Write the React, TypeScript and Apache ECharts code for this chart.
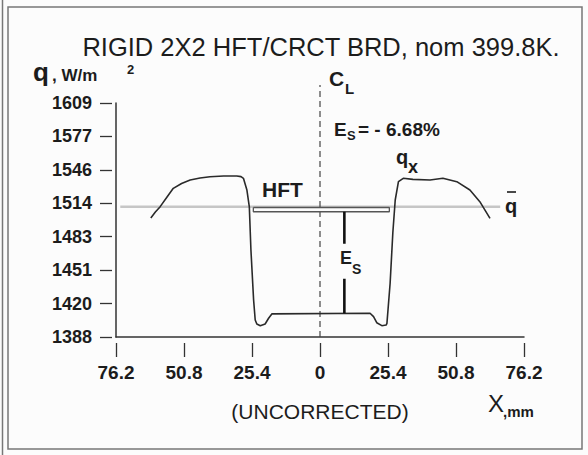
import React, { useEffect, useRef } from "react";
import * as echarts from "echarts";

// ---- data ----
const yTickLabels = ["1388", "1420", "1451", "1483", "1514", "1546", "1577", "1609"];
const yMin = 1388;
const yMax = 1609;
const xTickLabels = ["76.2", "50.8", "25.4", "0", "25.4", "50.8", "76.2"];
const xMin = -76.2;
const xMax = 76.2;
const xStep = 25.4;

// local heat flux q_x (W/m^2) vs X (mm)
const curveX = [
  -63.2, -61.5, -59.7, -57.2, -54.8, -51.7, -48.5, -44.8, -41.1, -36.0, -31.1, -29.5, -28.6,
  -27.3, -26.4, -25.8, -24.8, -24.2, -23.6, -22.3, -20.5, -19.2, -18.0,
  18.7, 20.0, 21.2, 23.1, 24.7, 25.0, 26.2, 27.2, 28.1, 29.3, 31.1, 34.7, 41.1, 45.9, 51.1,
  56.0, 59.7, 63.5,
];
const curveQ = [
  1500.4, 1506.0, 1511.1, 1520.0, 1528.4, 1533.0, 1536.3, 1538.2, 1539.4, 1540.0, 1540.1, 1539.5, 1537.9,
  1526.8, 1511.0, 1470.2, 1423.0, 1404.0, 1400.3, 1398.7, 1400.3, 1405.7, 1409.8,
  1410.4, 1407.2, 1401.5, 1398.7, 1399.3, 1400.9, 1439.0, 1486.2, 1517.4, 1534.7, 1537.9, 1536.9, 1536.3, 1537.9, 1534.7,
  1526.8, 1515.8, 1500.1,
];
// mean flux line q-bar
const qBarX = [-74.6, 67.3];
const qBarValue = 1511;
// HFT (heat flux transducer) bar
const hftX = [-24.9, 25.9];
const hftTop = 1510.3;
const hftBottom = 1506.3;
// E_S indicator
const esX = 9.1;
const esSegments = [
  [1506.3, 1476],
  [1443, 1410.4],
];
// centre line
const centreX = 0;
const centreTop = 1626;

const TEXT = "#1c1c1c";

export default function App() {
  const ref = useRef<HTMLDivElement>(null);
  useEffect(() => {
    document.body.style.margin = "0";
    const chart = echarts.init(ref.current!, undefined, { renderer: "svg" });
    const yInterval = (yMax - yMin) / (yTickLabels.length - 1);
    const yFmt = (v: number) => yTickLabels[Math.round((v - yMin) / yInterval)] ?? "";
    const xFmt = (v: number) => xTickLabels[Math.round((v - xMin) / xStep)] ?? "";
    const font = "Liberation Sans, Arial, sans-serif";

    const curve = curveX.map((x, i) => [x, curveQ[i]]);
    const hft = [
      [hftX[0], hftTop],
      [hftX[1], hftTop],
      [hftX[1], hftBottom],
      [hftX[0], hftBottom],
      [hftX[0], hftTop],
    ];

    const t = (text: string, x: number, y: number, size: number, weight: string, extra: any = {}) => ({
      type: "text",
      x,
      y,
      style: {
        text,
        fill: TEXT,
        font: `${weight} ${size}px ${font}`,
        textVerticalAlign: "middle",
        ...extra,
      },
    });

    const hiddenLine = { show: true, onZero: false, lineStyle: { color: "rgba(0,0,0,0)", width: 0 } };

    chart.setOption({
      animation: false,
      backgroundColor: "#fcfcfc",
      grid: { left: 116, right: 64, top: 103, bottom: 118 },
      xAxis: [
        {
          type: "value",
          min: xMin,
          max: xMax,
          interval: xStep,
          axisLine: { show: true, onZero: false, lineStyle: { color: "#333", width: 1.5 } },
          axisTick: { show: false },
          axisLabel: { show: false },
          splitLine: { show: false },
        },
        {
          type: "value",
          position: "bottom",
          offset: 6,
          min: xMin,
          max: xMax,
          interval: xStep,
          axisLine: hiddenLine,
          axisTick: { show: true, length: 14, lineStyle: { color: "#333", width: 1.3 } },
          axisLabel: {
            margin: 20,
            formatter: xFmt,
            fontSize: 19,
            fontWeight: "bold",
            fontFamily: font,
            color: TEXT,
          },
          splitLine: { show: false },
        },
      ],
      yAxis: [
        {
          type: "value",
          position: "left",
          min: yMin,
          max: yMax,
          interval: yInterval,
          axisLine: { show: true, onZero: false, lineStyle: { color: "#333", width: 1.5 } },
          axisTick: { show: false },
          axisLabel: { show: false },
          splitLine: { show: false },
        },
        {
          type: "value",
          position: "left",
          offset: 4,
          min: yMin,
          max: yMax,
          interval: yInterval,
          axisLine: hiddenLine,
          axisTick: { show: true, length: 12, lineStyle: { color: "#333", width: 1.3 } },
          axisLabel: {
            margin: 20,
            formatter: yFmt,
            fontSize: 18,
            fontWeight: "bold",
            fontFamily: font,
            color: TEXT,
          },
          splitLine: { show: false },
        },
      ],
      series: [
        {
          type: "line",
          data: qBarX.map((x) => [x, qBarValue]),
          symbol: "none",
          lineStyle: { color: "#c6c6c6", width: 2.5 },
          z: 1,
        },
        {
          type: "line",
          data: curve,
          symbol: "none",
          lineStyle: { color: "#2a2a2a", width: 1.6 },
          z: 3,
        },
        {
          type: "line",
          data: hft,
          symbol: "none",
          lineStyle: { color: "#555", width: 1.3 },
          z: 3,
        },
        {
          type: "line",
          data: [
            [centreX, yMin],
            [centreX, centreTop],
          ],
          symbol: "none",
          clip: false,
          lineStyle: { color: "#444", width: 1.2, type: [6, 4] },
          z: 2,
        },
        ...esSegments.map((seg) => ({
          type: "line",
          data: seg.map((v) => [esX, v]),
          symbol: "none",
          lineStyle: { color: "#111", width: 2.6 },
          z: 4,
        })),
      ],
      graphic: [
        {
          type: "rect",
          shape: { x: 8, y: 7, width: 574, height: 442 },
          style: { fill: "none", stroke: "#777", lineWidth: 1.5 },
        },
        {
          type: "line",
          shape: { x1: 2.5, y1: 0, x2: 2.5, y2: 455 },
          style: { stroke: "#777", lineWidth: 1.5 },
        },
        t("RIGID 2X2 HFT/CRCT BRD, nom 399.8K.", 321, 47, 25.5, "normal", { textAlign: "center" }),
        t("q", 33, 72, 26, "bold"),
        t(", W/m", 52, 75, 17, "bold"),
        t("2", 127, 69, 13, "bold"),
        t("C", 329, 78, 21, "bold"),
        t("L", 345, 88, 15, "bold"),
        t("E", 334, 129, 19, "bold"),
        t("S", 347, 135, 13, "bold"),
        t("= - 6.68%", 358, 129, 19, "bold"),
        t("HFT", 262, 189, 21, "bold"),
        t("E", 340, 258, 18, "bold"),
        t("S", 352, 269, 14, "bold"),
        t("q", 396, 157, 20, "bold"),
        t("x", 408, 167, 18, "bold"),
        t("q", 505, 206, 20, "bold"),
        {
          type: "line",
          shape: { x1: 507, y1: 192, x2: 516, y2: 192 },
          style: { stroke: TEXT, lineWidth: 1.6 },
        },
        t("(UNCORRECTED)", 320, 411, 21, "normal", { textAlign: "center" }),
        t("X", 488, 403, 24, "normal"),
        t(",mm", 503, 411, 15, "bold"),
      ],
    });
    return () => chart.dispose();
  }, []);
  return (
    <div
      ref={ref}
      style={{ position: "absolute", left: 0, top: 0, width: 588, height: 455 }}
    />
  );
}
